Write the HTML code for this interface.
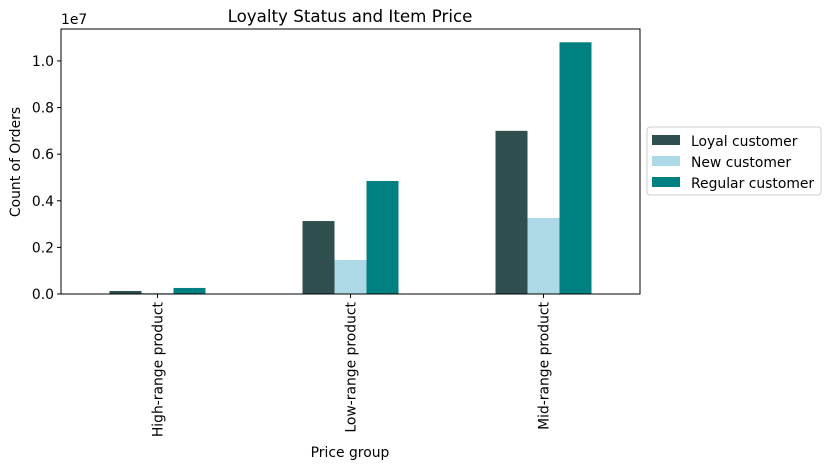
<!DOCTYPE html>
<html><head><meta charset="utf-8"><style>
body{margin:0;background:#fff;font-family:"Liberation Sans","DejaVu Sans",sans-serif;}
text{font-family:"DejaVu Sans","Liberation Sans",sans-serif;}
</style></head><body>
<svg id="c" width="829" height="469" xmlns="http://www.w3.org/2000/svg"></svg>
<script>
const categories=["High-range product","Low-range product","Mid-range product"];
const seriesNames=["Loyal customer","New customer","Regular customer"];
const loyal=[0.013,0.313,0.70];
const newc=[0.004,0.146,0.326];
const regular=[0.026,0.485,1.08];
const yTicks=[0,0.2,0.4,0.6,0.8,1.0];
const yTickLabels=["0.0","0.2","0.4","0.6","0.8","1.0"];
const colors=["#2f4f4f","#add8e6","#008080"];
const L=61,R=640,T=29,B=294,yMax=1.137;
const FS=13.9;
const svg=document.getElementById('c');const NS="http://www.w3.org/2000/svg";
function el(t,a,txt){const e=document.createElementNS(NS,t);for(const k in a)e.setAttribute(k,a[k]);if(txt!=null)e.textContent=txt;svg.appendChild(e);return e;}
const y=v=>B-(v/yMax)*(B-T);
const step=(R-L)/categories.length;
const x=i=>L+step*(i+0.5);
const bw=32;
[loyal,newc,regular].forEach((s,si)=>{s.forEach((v,i)=>{
const r=el('rect',{x:x(i)-48+si*bw,y:y(v),width:bw,height:B-y(v),fill:colors[si]});


});});
const ax=el('rect',{x:L,y:T,width:R-L,height:B-T,fill:'none',stroke:'#000','stroke-width':1});

yTicks.forEach((v,i)=>{el('line',{x1:L-4,x2:L,y1:y(v),y2:y(v),stroke:'#000'});
const t=el('text',{x:L-7,y:y(v)+5,'text-anchor':'end','font-size':FS},yTickLabels[i]);
});
categories.forEach((c,i)=>{el('line',{x1:x(i),x2:x(i),y1:B,y2:B+4,stroke:'#000'});
const t=el('text',{x:x(i)+5,y:B+8,'text-anchor':'end','font-size':FS,transform:`rotate(-90 ${x(i)+5} ${B+8})`},c);
});
let t=el('text',{x:61,y:24,'font-size':FS},'1e7');
t=el('text',{x:350,y:22,'text-anchor':'middle','font-size':16.7},'Loyalty Status and Item Price');
t=el('text',{x:350,y:457,'text-anchor':'middle','font-size':FS},'Price group');
t=el('text',{x:20,y:162,'text-anchor':'middle','font-size':FS,transform:'rotate(-90 20 162)'},'Count of Orders');
const lg=el('rect',{x:647,y:127,width:174,height:68,fill:'#fff',stroke:'#ccc',rx:3});
seriesNames.forEach((n,i)=>{el('rect',{x:652,y:135+i*21,width:28,height:10,fill:colors[i]});
const tt=el('text',{x:691,y:146+i*21,'font-size':FS},n);});
</script>
</body></html>
